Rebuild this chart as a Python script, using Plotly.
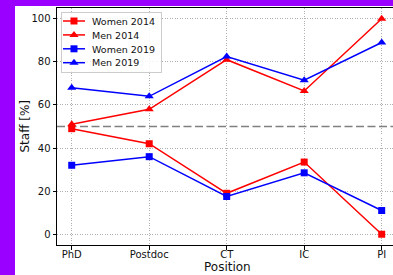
import plotly.graph_objects as go

positions = ["PhD", "Postdoc", "CT", "IC", "PI"]
women_2014 = [49, 42, 19, 33.5, 0]
men_2014 = [51, 58, 81, 66.5, 100]
women_2019 = [32, 36, 17.5, 28.5, 11]
men_2019 = [68, 64, 82.5, 71.5, 89]
y_ticks = [0, 20, 40, 60, 80, 100]

W, H = 393, 275
ML, MR, MT, MB = 57, 0, 8, 30
PW = W - ML - MR
PH = H - MT - MB

def px_x(p):
    return (p - ML) / PW

def px_y(p):
    return (H - MB - p) / PH

fig = go.Figure()
series = [
    ("Women 2014", women_2014, "#ff0000", "square", 7),
    ("Men 2014", men_2014, "#ff0000", "triangle-up", 8),
    ("Women 2019", women_2019, "#0000ff", "square", 7),
    ("Men 2019", men_2019, "#0000ff", "triangle-up", 8),
]
for name, vals, col, sym, sz in series:
    fig.add_trace(go.Scatter(
        x=list(range(len(positions))), y=vals, name=name, mode="lines+markers",
        line=dict(color=col, width=1.5),
        marker=dict(symbol=sym, size=sz, color=col),
    ))

fig.add_shape(type="line", xref="paper", yref="y", x0=0, x1=1, y0=50, y1=50,
              line=dict(color="#808080", width=1.5, dash="8px,3.5px"), layer="below")

purple = "#9900ff"
fig.add_shape(type="rect", xref="paper", yref="paper", x0=px_x(-5), x1=px_x(15),
              y0=px_y(H + 5), y1=px_y(-5), fillcolor=purple, line=dict(width=0), layer="above")
fig.add_shape(type="rect", xref="paper", yref="paper", x0=px_x(-5), x1=px_x(W + 5),
              y0=px_y(6), y1=px_y(-5), fillcolor=purple, line=dict(width=0), layer="above")

fig.add_annotation(text="Staff [%]", xref="paper", yref="paper", x=px_x(24), y=0.5,
                   textangle=-90, showarrow=False, xanchor="center", yanchor="middle",
                   font=dict(size=12, color="#111"))
fig.add_annotation(text="Position", xref="paper", yref="paper", x=px_x(227), y=px_y(267),
                   showarrow=False, xanchor="center", yanchor="middle",
                   font=dict(size=12, color="#111"))

fig.update_layout(
    width=W, height=H, autosize=False,
    margin=dict(l=ML, r=MR, t=MT, b=MB),
    paper_bgcolor="white", plot_bgcolor="white",
    font=dict(family="DejaVu Sans", size=10, color="#111"),
    showlegend=True,
    legend=dict(x=px_x(61), y=px_y(12), xanchor="left", yanchor="top",
                bgcolor="rgba(255,255,255,0.85)", bordercolor="#cccccc", borderwidth=1,
                font=dict(size=9.5), itemwidth=30, tracegroupgap=0),
)
fig.update_xaxes(
    tickmode="array", tickvals=list(range(len(positions))), ticktext=positions,
    range=[-0.19, 4.146], showline=True, linecolor="black", linewidth=1, mirror=True,
    ticks="outside", ticklen=3.5, tickcolor="black", showgrid=True,
    gridcolor="#b0b0b0", gridwidth=0.8, griddash="1px,1.5px", zeroline=False,
    tickfont=dict(size=10), ticklabelstandoff=-4,
)
fig.update_yaxes(
    tickmode="array", tickvals=y_ticks, range=[-5, 105], showline=True, linecolor="black",
    linewidth=1, ticks="outside", ticklen=3.5, tickcolor="black", showgrid=True,
    gridcolor="#b0b0b0", gridwidth=0.8, griddash="1px,1.5px", zeroline=False,
    tickfont=dict(size=10),
)

post_js = """
document.body.style.margin = '0';
document.body.style.overflow = 'hidden';
var gd = document.getElementById('{plot_id}');
var lg = gd.querySelector('.legend');
if (lg) {
  lg.setAttribute('transform', 'translate(61,12)');
  var bg = lg.querySelector('rect.bg');
  if (bg) { bg.setAttribute('width', 100); bg.setAttribute('height', 60); }
  var tr = lg.querySelectorAll('.traces');
  tr.forEach(function(t, i) {
    t.setAttribute('transform', 'translate(0,' + (9 + i * 13.9) + ')');
    var tx = t.querySelector('text.legendtext');
    if (tx) tx.setAttribute('x', 31);
    var ln = t.querySelectorAll('.legendlines path');
    ln.forEach(function(p) { p.setAttribute('d', 'M2,0h22'); });
    var pts = t.querySelectorAll('.legendpoints path');
    pts.forEach(function(p) { p.setAttribute('transform', 'translate(13,0)'); });
  });
}
"""

fig.write_html("out.html", post_script=post_js, config={"displayModeBar": False})
